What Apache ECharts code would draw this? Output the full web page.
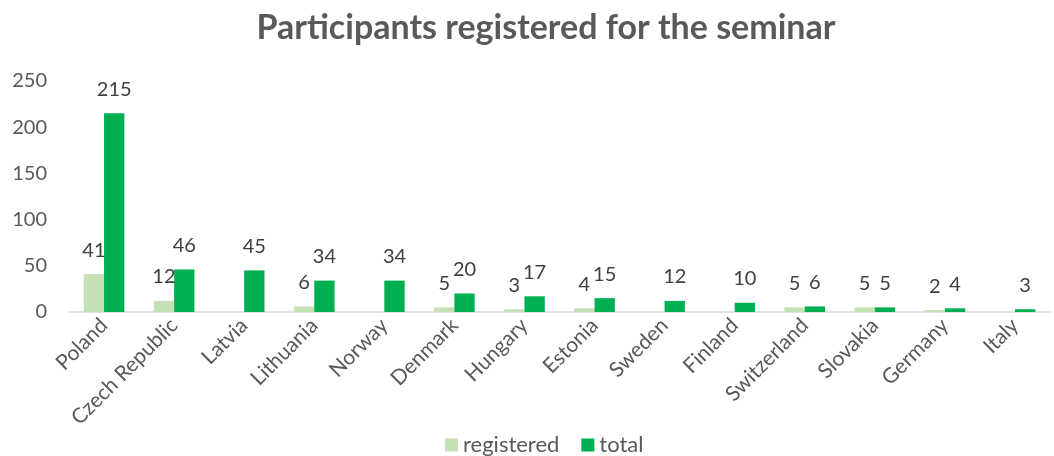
<!DOCTYPE html>
<html><head><meta charset="utf-8">
<script src="https://cdn.jsdelivr.net/npm/echarts@6/dist/echarts.min.js"></script>
<style>html,body{margin:0;padding:0;background:#fff}#c{width:1054px;height:456px}</style>
</head><body><div id="c"></div>
<script>
const categories = ["Poland","Czech Republic","Latvia","Lithuania","Norway","Denmark","Hungary","Estonia","Sweden","Finland","Switzerland","Slovakia","Germany","Italy"];
const registered = [41,12,null,6,null,5,3,4,null,null,5,5,2,null];
const total = [215,46,45,34,34,20,17,15,12,10,6,5,4,3];
const yTicks = {min:0,max:250,interval:50};
const F = 'Lato, "Open Sans", sans-serif';
const chart = echarts.init(document.getElementById('c'));
chart.setOption({
  animation:false,
  title:{text:'Participants registered for the seminar',left:541,textAlign:'center',top:6,
    textStyle:{fontFamily:F,fontSize:34,fontWeight:'bold',color:'#595959'}},
  grid:{left:69,right:4,top:81,bottom:144},
  legend:{bottom:-5,left:440,itemWidth:13,itemHeight:13,itemGap:22,icon:'rect',
    textStyle:{fontFamily:F,fontSize:22,color:'#595959'},data:['registered','total']},
  xAxis:{type:'category',data:categories,
    axisLine:{lineStyle:{color:'#D9D9D9',width:1.5}},axisTick:{show:false},
    axisLabel:{rotate:45,interval:0,fontFamily:F,fontSize:21,color:'#595959',margin:10}},
  yAxis:{type:'value',min:yTicks.min,max:yTicks.max,interval:yTicks.interval,
    splitLine:{show:false},axisLine:{show:false},axisTick:{show:false},
    axisLabel:{fontFamily:F,fontSize:20,color:'#595959',margin:22}},
  series:[
    {name:'registered',type:'bar',data:registered,barGap:'0%',barCategoryGap:'42%',
     itemStyle:{color:'#C5E0B4'},
     label:{show:true,position:'top',distance:14,fontFamily:F,fontSize:20,color:'#404040'}},
    {name:'total',type:'bar',data:total,
     itemStyle:{color:'#00B050'},
     label:{show:true,position:'top',distance:14,fontFamily:F,fontSize:20,color:'#404040'}}
  ]
});
</script></body></html>
